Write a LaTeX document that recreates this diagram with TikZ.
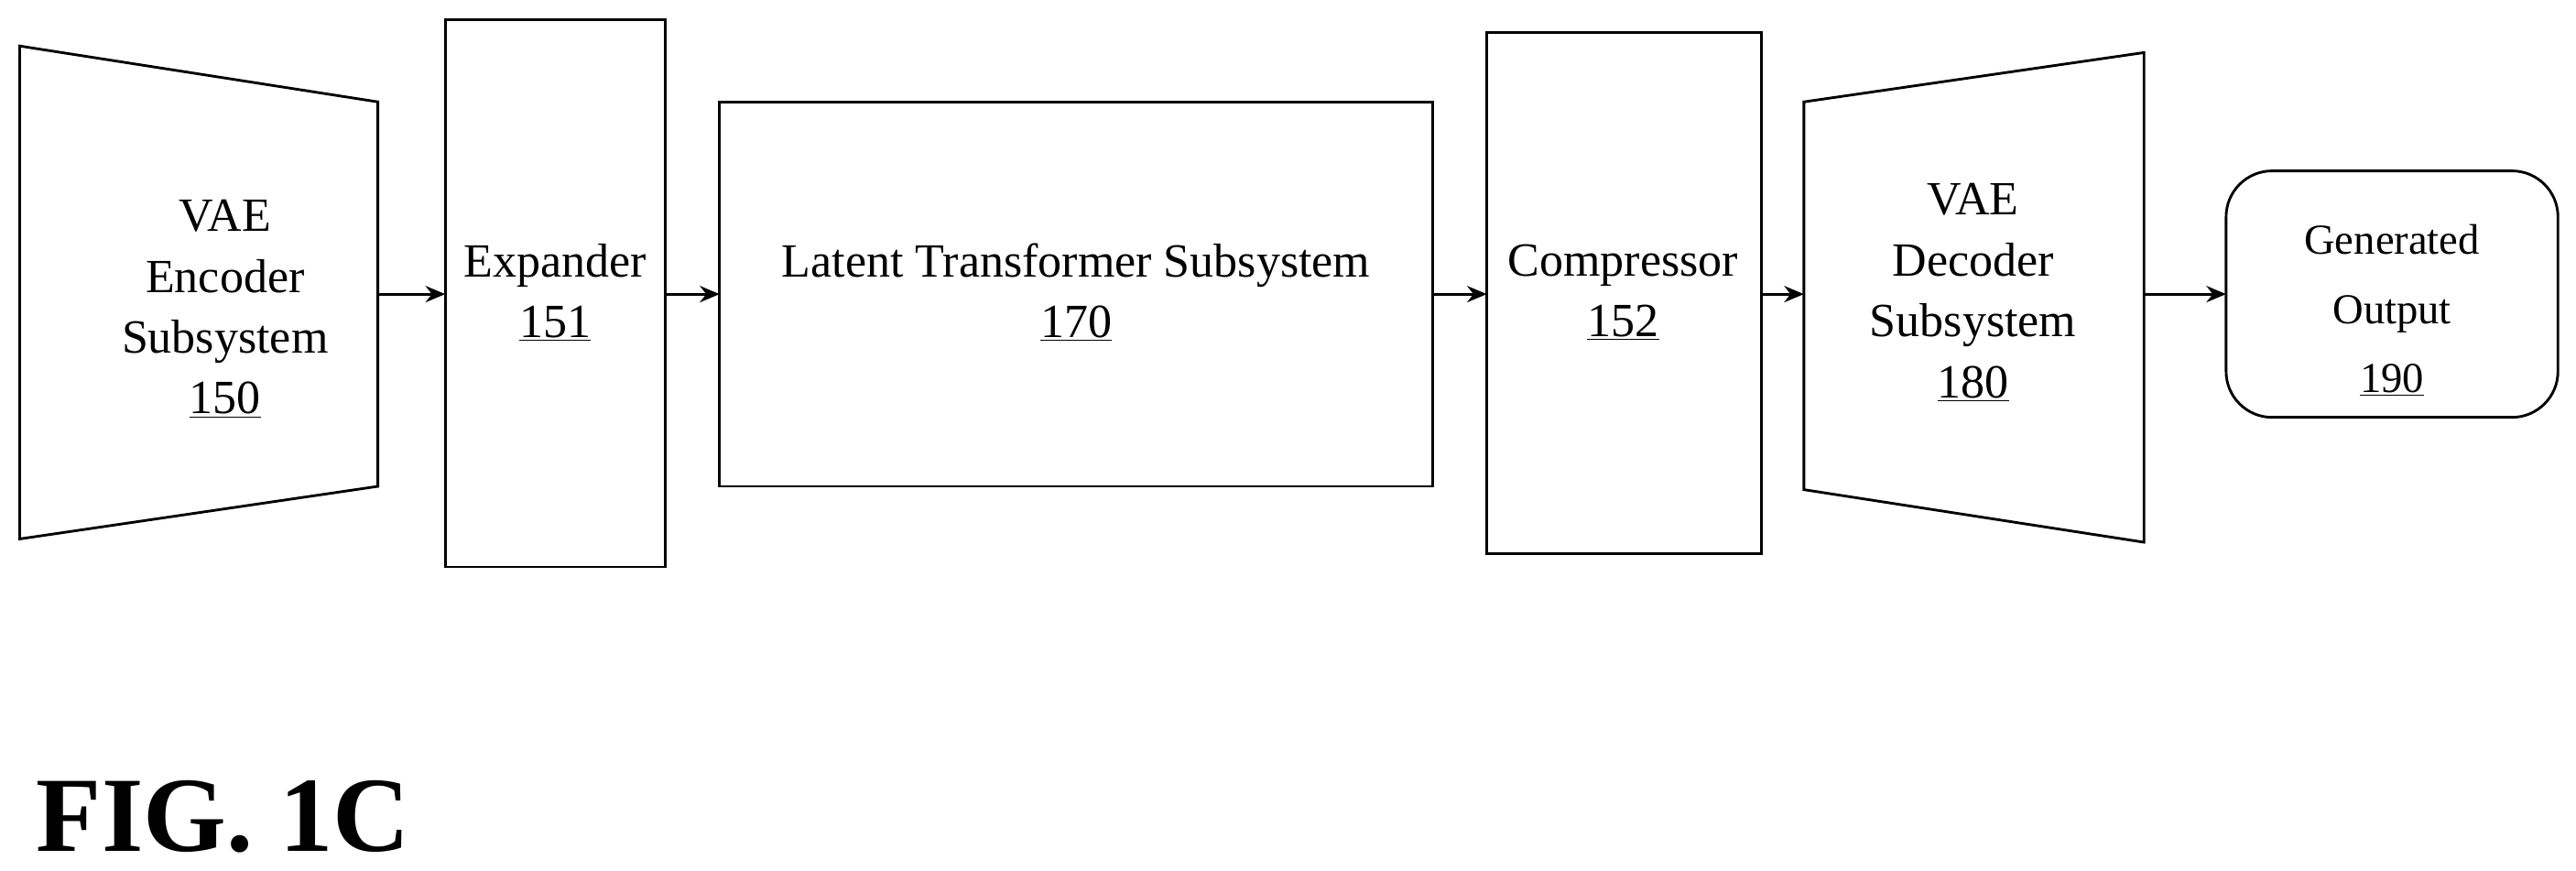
\documentclass[tikz,border=0pt]{standalone}
\usepackage{fontspec}
\setmainfont{Liberation Serif}
\usetikzlibrary{arrows.meta}
\begin{document}
\begin{tikzpicture}[x=1pt,y=-1pt,
  box/.style={draw,line width=1.6pt},
  lbl/.style={align=center,font=\fontsize{29}{37}\selectfont},
  arr/.style={-{Stealth[length=12pt,width=10pt]},line width=1.6pt}]
\useasboundingbox (0,0) rectangle (1568,530);
\draw[box] (12,28) -- (230,62) -- (230,296) -- (12,328) -- cycle;
\node[lbl] (enc) at (137,188) {VAE\\Encoder\\Subsystem\\\underline{150}};
\draw[box] (271,12) rectangle (405,345);
\node[lbl] (exp) at (338,178) {Expander\\\underline{151}};
\draw[box] (438,62) rectangle (872,296);
\node[lbl] (lat) at (655,178) {Latent Transformer Subsystem\\\underline{170}};
\draw[box] (905,20) rectangle (1072,337);
\node[lbl] (com) at (988,178) {Compressor\\\underline{152}};
\draw[box] (1098,62) -- (1305,32) -- (1305,330) -- (1098,298) -- cycle;
\node[lbl] (dec) at (1201,178) {VAE\\Decoder\\Subsystem\\\underline{180}};
\draw[box,rounded corners=28pt] (1355,104) rectangle (1557,254);
\node[lbl,font=\fontsize{26}{42}\selectfont] (gen) at (1456,189) {Generated\\Output\\\underline{190}};
\coordinate (e1) at (230,179); \coordinate (e2) at (271,179);
\coordinate (x1) at (405,179); \coordinate (x2) at (438,179);
\coordinate (l1) at (872,179); \coordinate (l2) at (905,179);
\coordinate (c1) at (1072,179); \coordinate (c2) at (1098,179);
\coordinate (d1) at (1305,179); \coordinate (d2) at (1355,179);
\draw[arr] (e1) -- (e2);
\draw[arr] (x1) -- (x2);
\draw[arr] (l1) -- (l2);
\draw[arr] (c1) -- (c2);
\draw[arr] (d1) -- (d2);
\node[anchor=west,inner sep=0pt,font=\bfseries\fontsize{65}{65}\selectfont] (fig) at (22,497) {FIG. 1C};
\end{tikzpicture}
\end{document}
